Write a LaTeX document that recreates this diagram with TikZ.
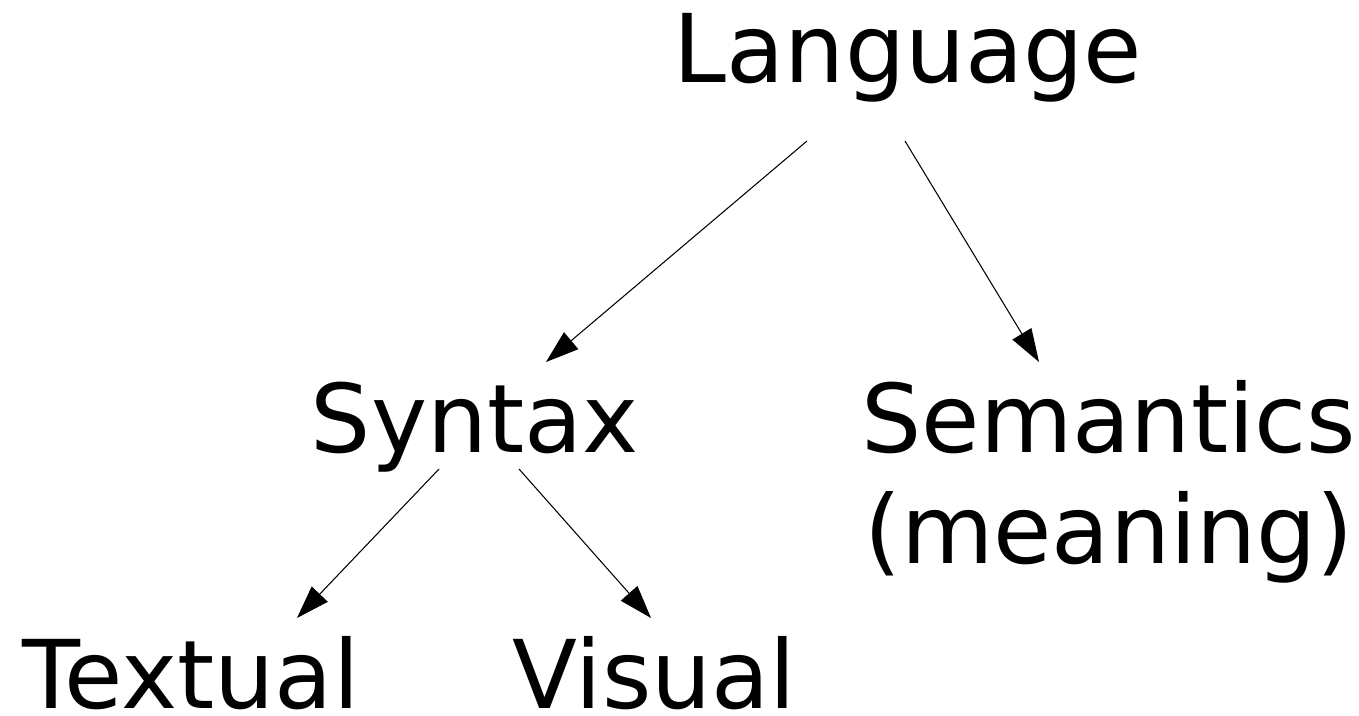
\documentclass[tikz,border=0pt]{standalone}
\usepackage{fontspec}
\setmainfont{DejaVu Sans}
\usepackage{tikz}
\usetikzlibrary{arrows.meta}

\begin{document}
\begin{tikzpicture}[
    word/.style={inner sep=0pt, anchor=base, font=\fontsize{27}{31.5}\selectfont},
    branch/.style={line width=0.3pt, -{Triangle[length=0.33cm, width=0.22cm]}}
]
    % Fix the page size
    \useasboundingbox (0,0) rectangle (13.59,-7.15);

    % Place the words of the tree
    \node[word] (Lang) at (9.08,-0.82) {Language};
    \node[word] (Syn) at (4.75,-4.52) {Syntax};
    \node[word, align=center] (Sem) at (11.09,-5.63) {Semantics\\(meaning)};
    \node[word] (Text) at (1.91,-7.08) {Textual};
    \node[word] (Vis) at (6.545,-7.08) {Visual};

    % Connect the words with arrows
    \draw[branch] ([xshift=-1.01cm, yshift=-0.59cm]Lang.base) -- ([xshift=0.71cm, yshift=0.90cm]Syn.base);
    \draw[branch] ([xshift=-0.03cm, yshift=-0.59cm]Lang.base) -- ([xshift=-0.70cm, yshift=2.01cm]Sem.base);
    \draw[branch] ([xshift=-0.36cm, yshift=-0.17cm]Syn.base) -- ([xshift=1.06cm, yshift=0.90cm]Text.base);
    \draw[branch] ([xshift=0.44cm, yshift=-0.17cm]Syn.base) -- ([xshift=-0.035cm, yshift=0.90cm]Vis.base);

\end{tikzpicture}
\end{document}
